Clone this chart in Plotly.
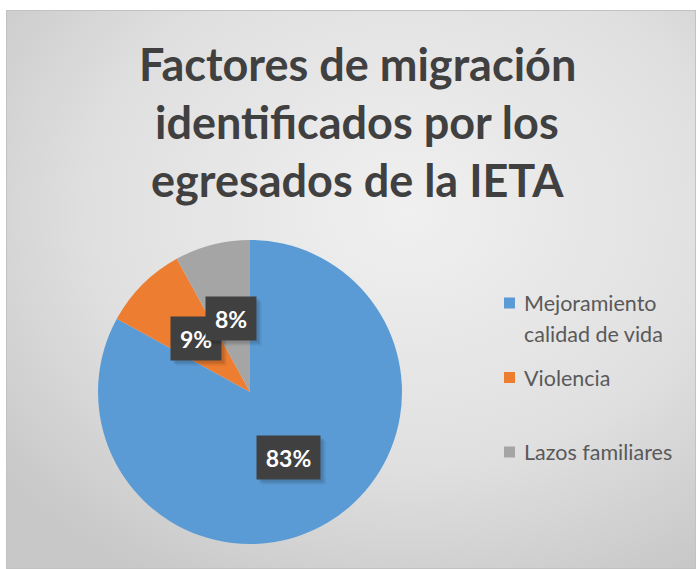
import base64
import math
import plotly.graph_objects as go

# ---- data ----
categories = ["Mejoramiento calidad de vida", "Violencia", "Lazos familiares"]
legend_labels = ["Mejoramiento<br>calidad de vida", "Violencia", "Lazos familiares"]
values = [83, 9, 8]
colors = ["#5B9BD5", "#ED7D31", "#A5A5A5"]
title_lines = ["Factores de migración", "identificados por los", "egresados de la IETA"]

W, H = 696, 569
CX, CY, R = 250, 392, 152  # pie centre / radius in pixels (from top-left)


def px(x):
    return x / W


def py(y):
    return 1 - y / H


fig = go.Figure()
fig.add_trace(go.Pie(
    labels=categories, values=values, sort=False, direction="clockwise", rotation=0,
    marker=dict(colors=colors, line=dict(width=0)),
    textinfo="none", hoverinfo="label+percent", showlegend=False,
    domain=dict(x=[px(CX - R), px(CX + R)], y=[py(CY + R), py(CY - R)]),
))

# background gradient (chart area) as an svg image
svg = ('<svg xmlns="http://www.w3.org/2000/svg" width="690" height="559" preserveAspectRatio="none">'
       '<defs><radialGradient id="g" cx="0.58" cy="0.36" r="0.75">'
       '<stop offset="0" stop-color="#f0f0f0"/><stop offset="0.6" stop-color="#e0e0e0"/>'
       '<stop offset="1" stop-color="#c8c8c8"/></radialGradient></defs>'
       '<rect x="0" y="0" width="690" height="559" fill="url(#g)"/>'
       '<rect x="0.5" y="0.5" width="689" height="558" fill="none" stroke="#c2c2c2" stroke-width="1"/></svg>')
src = "data:image/svg+xml;base64," + base64.b64encode(svg.encode()).decode()

annotations = []

# title
for i, line in enumerate(title_lines):
    annotations.append(dict(
        text=line, x=px(357), y=py(64 + 58 * i), xref="paper", yref="paper",
        xanchor="center", yanchor="middle", showarrow=False,
        font=dict(family="Lato", size=45, color="#404040", weight="bold"),
    ))

# data labels (placed at half radius along slice mid-angle)
total = sum(values)
cum = 0
for v in values:
    mid = (cum + v / 2) / total * 2 * math.pi
    cum += v
    bx = CX + 0.5 * R * math.sin(mid)
    by = CY - 0.5 * R * math.cos(mid)
    txt = f"{round(v / total * 100)}%"
    bw = 13 * len(txt) + 24
    for k, a in ((5, 0.07), (3, 0.11)):
        annotations.append(dict(
            text="", x=px(bx + k), y=py(by + k), xref="paper", yref="paper", showarrow=False,
            xanchor="center", yanchor="middle",
            width=bw, height=43, bgcolor=f"rgba(0,0,0,{a})", borderpad=0,
        ))
    annotations.append(dict(
        text=f"<b>{txt}</b>", x=px(bx), y=py(by), xref="paper", yref="paper", showarrow=False,
        xanchor="center", yanchor="middle",
        width=bw, height=43, bgcolor="#404040", borderpad=0,
        font=dict(family="Lato", size=23, color="#ffffff"),
    ))

# legend
shapes = []
for i, (lab, col) in enumerate(zip(legend_labels, colors)):
    ytop = 303 + 74.5 * i
    shapes.append(dict(type="rect", xref="paper", yref="paper",
                       x0=px(504), x1=px(515), y0=py(ytop - 5.5), y1=py(ytop + 5.5),
                       fillcolor=col, line=dict(width=0)))
    for j, part in enumerate(lab.split("<br>")):
        annotations.append(dict(
            text=part, x=px(522), y=py(ytop + 31 * j), xref="paper", yref="paper",
            xanchor="left", yanchor="middle", showarrow=False,
            font=dict(family="Lato", size=21.5, color="#595959"),
        ))

fig.update_layout(
    width=W, height=H, margin=dict(l=0, r=0, t=0, b=0),
    paper_bgcolor="#ffffff", plot_bgcolor="rgba(0,0,0,0)",
    images=[dict(source=src, xref="paper", yref="paper", x=px(6), y=py(10),
                 sizex=690 / W, sizey=559 / H, xanchor="left", yanchor="top",
                 sizing="stretch", layer="below")],
    annotations=annotations, shapes=shapes, showlegend=False,
)

fig.write_html("out.html", config={"displayModeBar": False},
               post_script="document.body.style.margin='0';")
